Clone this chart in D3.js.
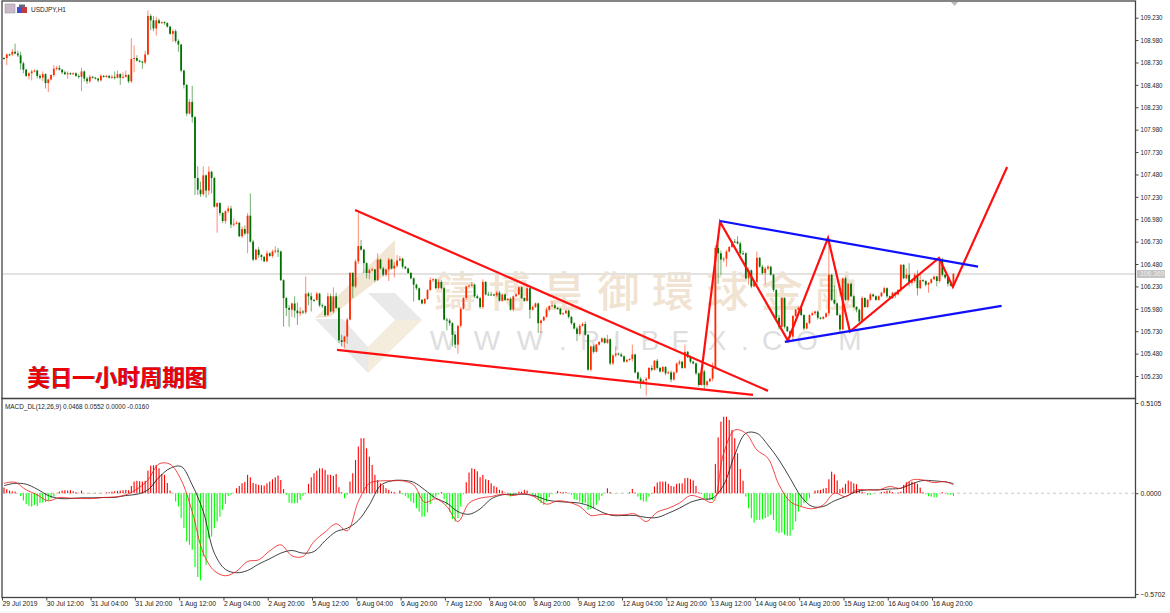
<!DOCTYPE html>
<html><head><meta charset="utf-8">
<style>html,body{margin:0;padding:0;background:#fff;overflow:hidden}svg{display:block}
text{font-family:"Liberation Sans",sans-serif;fill:#222}</style>
<script src="https://cdn.jsdelivr.net/npm/d3@7/dist/d3.min.js"></script></head><body><div id="c"></div>
<script>
const symbolTitle="USDJPY,H1";
const macdTitle="MACD_DL(12,26,9) 0.0468 0.0552 0.0000 -0.0160";
const chartNote="美日一小时周期图";
const currentPrice=106.369, currentLabel="106.369";
const firstOpen=108.78;
const closes=[
108.78,108.82,108.82,108.85,108.83,108.81,108.72,108.65,108.58,108.61,
108.63,108.64,108.58,108.56,108.60,108.50,108.54,108.59,108.66,108.67,
108.65,108.62,108.60,108.61,108.60,108.61,108.58,108.57,108.63,108.55,
108.52,108.57,108.56,108.55,108.53,108.58,108.57,108.58,108.56,108.57,
108.56,108.60,108.56,108.57,108.59,108.52,108.77,108.78,108.75,108.74,
108.73,108.82,109.25,109.20,109.11,109.20,109.17,109.18,109.17,109.13,
109.05,109.08,108.97,108.93,108.64,108.48,108.16,108.29,108.12,107.44,
107.31,107.26,107.47,107.30,107.51,107.44,107.12,107.16,107.05,106.96,
107.07,107.10,106.92,106.93,106.94,106.79,106.87,106.82,107.02,106.73,
106.53,106.64,106.58,106.56,106.51,106.60,106.57,106.62,106.63,106.62,
106.30,106.10,105.99,105.97,106.04,105.96,105.93,105.95,105.94,106.15,
106.12,106.08,106.08,106.15,106.02,106.01,105.91,106.12,105.95,106.12,
105.99,105.63,105.61,105.67,105.86,106.38,106.23,106.51,106.68,106.64,
106.49,106.38,106.41,106.42,106.30,106.53,106.43,106.36,106.42,106.53,
106.43,106.46,106.52,106.54,106.45,106.43,106.38,106.32,106.25,106.21,
106.08,106.04,106.09,106.19,106.30,106.31,106.21,106.28,106.21,105.86,
105.85,105.82,105.69,105.58,105.79,105.98,106.10,106.23,106.24,106.25,
106.12,106.10,106.00,106.28,106.14,106.14,106.14,106.13,106.16,106.07,
106.14,106.08,106.09,105.97,106.12,106.14,106.22,106.10,106.07,106.21,
105.97,106.00,106.04,105.82,105.85,105.89,105.97,106.01,106.02,105.99,
105.98,105.92,105.93,105.96,105.89,105.82,105.76,105.70,105.79,105.81,
105.69,105.30,105.56,105.50,105.58,105.61,105.65,105.60,105.64,105.37,
105.46,105.48,105.47,105.45,105.39,105.41,105.42,105.47,105.27,105.20,
105.15,105.18,105.20,105.32,105.30,105.40,105.32,105.28,105.33,105.26,
105.27,105.19,105.27,105.37,105.39,105.32,105.50,105.44,105.39,105.37,
105.26,105.13,105.28,105.13,105.17,105.20,105.32,106.66,106.60,106.53,
106.54,106.62,106.67,106.73,106.73,106.71,106.60,106.60,106.32,106.41,
106.23,106.28,106.55,106.45,106.38,106.43,106.45,106.36,106.19,105.88,
105.78,106.10,105.78,105.73,105.67,105.90,105.97,105.99,105.91,105.76,
105.82,105.91,105.93,105.95,105.88,105.87,105.89,105.93,106.36,106.08,
106.04,105.91,105.75,106.32,106.08,106.26,106.12,106.00,105.97,105.84,
106.10,106.00,106.08,106.14,106.12,106.08,106.12,106.16,106.21,106.12,
106.10,106.16,106.14,106.19,106.47,106.32,106.36,106.27,106.29,106.36,
106.21,106.30,106.29,106.25,106.27,106.31,106.34,106.29,106.53,106.36,
106.33,106.26,106.24,106.37];
// upper and lower shadows, in hundredths of a yen
const upperWicks=[
1,1,1,3,9,3,4,2,1,1, 2,1,1,2,3,1,1,1,4,2, 3,1,2,2,1,1,1,2,4,1, 2,2,1,1,1,2,1,1,1,2,
6,4,1,5,5,1,23,14,3,1, 1,4,6,2,5,4,2,1,1,1, 1,2,2,2,1,1,1,3,18,1, 13,9,10,1,6,1,1,1,1,1,
1,3,3,6,2,1,3,4,3,25, 2,1,3,1,1,3,1,2,5,3, 1,1,1,3,1,8,9,5,2,19, 2,4,1,2,1,2,1,4,3,10,
4,1,6,1,2,1,1,2,37,7, 1,1,2,2,0,7,1,2,1,2, 1,4,6,3,1,1,1,1,1,1, 1,1,1,1,3,1,1,3,2,1,
2,2,1,1,1,2,1,1,1,3, 1,2,1,3,1,3,3,1,2,2, 1,1,1,2,1,1,1,1,1,4, 1,2,1,1,1,1,2,1,4,2,
1,1,1,1,1,1,1,2,2,2, 3,1,1,2,1,1,1,1,5,1, 1,8,1,2,1,1,1,11,1,1, 2,1,2,1,3,1,2,1,1,1,
2,2,1,1,2,1,8,1,2,1, 1,1,2,2,1,1,6,3,4,3, 2,2,1,1,3,6,2,3,1,3, 1,1,7,1,2,2,2,1,1,1,
3,1,1,1,1,1,1,2,2,1, 1,1,2,1,1,1,1,1,41,1, 16,1,2,1,2,1,1,1,1,1, 2,1,1,2,1,1,1,1,2,1,
1,1,1,1,1,1,7,13,2,2, 5,7,1,1,1,1,1,1,2,2, 1,1,2,1];
const lowerWicks=[
2,8,2,2,1,2,7,4,1,4, 8,1,3,2,4,6,10,1,2,2, 1,2,1,5,1,1,1,2,16,3, 3,2,1,1,2,1,1,1,1,1,
2,1,8,1,1,2,2,15,1,1, 7,2,1,11,3,8,1,1,2,1, 1,9,2,8,2,4,3,1,6,19, 6,3,2,8,5,17,1,29,3,2,
3,2,4,2,1,1,2,2,22,1, 2,1,3,4,1,1,1,2,2,6, 1,32,9,19,8,8,13,3,2,2, 10,13,2,1,2,2,2,1,1,2,
1,3,5,7,8,1,13,2,3,1, 11,6,7,1,2,1,1,2,2,13, 1,10,2,1,2,1,1,1,19,2, 1,1,1,1,1,2,1,1,1,1,
11,3,13,4,10,2,1,2,1,1, 2,1,2,2,1,1,1,1,2,1, 1,1,1,1,2,1,1,1,1,1, 10,1,1,11,11,1,1,2,1,1,
1,1,1,1,2,2,1,8,2,1, 1,1,2,2,1,1,1,1,1,2, 2,2,1,1,1,1,1,3,1,2, 6,1,17,1,2,1,2,1,1,2,
1,3,1,1,2,1,1,1,2,1, 2,2,1,5,2,1,3,1,34,17, 3,9,1,1,1,1,2,2,1,7, 2,1,3,1,2,13,2,1,2,2,
3,1,2,1,1,4,1,1,1,2, 1,1,1,2,2,1,1,1,3,1, 1,1,3,1,1,2,1,1,3,2, 1,1,1,1,1,1,1,1,1,2,
1,1,4,1,2,1,1,4,3,2, 8,1,1,2,9,1,1,6,2,2, 2,3,1,1];
// MACD values in thousandths
const histogram=[
32,23,15,11,9,0,-15,-41,-62,-72, -75,-66,-72,-56,-53,-51,-41,-28,-19,2,
9,15,17,15,17,11,6,2,15,2, -2,2,-2,2,-2,2,0,4,6,9,
11,13,15,17,19,17,41,66,70,68, 66,70,128,156,158,160,141,109,104,58,
15,0,-47,-75,-141,-198,-273,-292,-320,-418, -474,-493,-358,-405,-254,-245,-198,-160,-132,-94,
-60,-15,-9,0,28,41,56,64,104,90, 58,53,47,45,43,56,66,79,90,100,
75,23,-9,-53,-56,-56,-56,-38,-15,-4, 53,90,113,128,141,141,132,105,104,98,
109,34,6,-28,-9,66,113,188,264,311, 311,254,207,160,104,75,56,47,28,19,
9,6,2,15,-6,-15,-28,-47,-56,-85, -104,-132,-132,-109,-62,-28,-19,-6,6,-34,
-66,-104,-147,-160,-141,-75,-6,62,117,141, 137,124,90,104,79,75,56,41,34,19,
15,4,2,-19,-15,-6,9,9,19,15, -2,-9,-23,-41,-56,-66,-47,-23,-6,0,
13,6,6,6,0,-9,-34,-38,-47,-56, -56,-94,-90,-85,-66,-41,-15,0,28,6,
-2,-2,0,-2,0,0,6,24,4,-19, -38,-47,-47,-19,-4,38,60,66,66,66,
53,41,38,53,56,56,85,87,79,72, 41,6,-4,-28,-38,-38,-38,166,316,405,
433,433,414,358,311,226,137,70,-19,-85, -141,-166,-151,-151,-147,-141,-132,-122,-151,-217,
-226,-222,-235,-241,-241,-207,-160,-104,-75,-56, -47,-28,0,15,17,19,26,30,79,122,
107,72,23,32,53,72,66,56,51,19, 9,4,-11,-9,0,0,0,6,9,15,
15,6,2,4,9,47,62,66,66,60, 53,32,6,-6,-17,-19,-23,-23,0,6,
2,-8,-9,-15];
// read every fourth bar, and at the last bar
const lineBars=d3.range(0,344,4).concat(343);
const signalLine=[
43,56,51,23,-13,-30,-30,-26,-26,-24,-24,-13,-6,19,90,141,151,47,-104,-339,-431,-450,-437,-401,-371,-339,-324,-339,-330,-269,-217,-198,-154,-66,43,70,
73,62,19,-28,-56,-104,-119,-89,-32,-9,-6,-6,-15,-38,-47,-51,-56,-75,-107,-126,-126,-126,-137,-137,-113,-85,-51,-34,-28,47,217,339,339,273,188,85,-19,
-75,-75,-43,-19,9,19,19,24,28,53,72,70,64,55];
const mainLine=[
56,62,19,-9,-43,-24,-28,-30,-30,-24,-21,-9,23,75,166,164,75,-104,-339,-439,-467,-442,-386,-377,-326,-292,-354,-358,-273,-220,-173,-213,-47,56,70,70,
70,47,-51,-32,-75,-160,-56,-28,-19,-6,-13,-2,-24,-62,-43,-51,-75,-126,-119,-122,-122,-117,-160,-107,-85,-56,-13,-28,-51,226,358,339,245,198,47,-47,-75,
-88,-66,0,-19,19,19,19,38,28,75,75,60,66,47];
const priceTicks=[109.23,108.98,108.73,108.48,108.23,107.98,107.73,107.48,107.23,106.98,106.73,106.48,106.23,105.98,105.73,105.48,105.23];
const macdTicks=[510.5,0,-570.2];
const timeLabels=["29 Jul 2019","30 Jul 12:00","31 Jul 04:00","31 Jul 20:00","1 Aug 12:00","2 Aug 04:00","2 Aug 20:00","5 Aug 12:00","6 Aug 04:00","6 Aug 20:00","7 Aug 12:00","8 Aug 04:00","8 Aug 20:00","9 Aug 12:00","12 Aug 04:00","12 Aug 20:00","13 Aug 12:00","14 Aug 04:00","14 Aug 20:00","15 Aug 12:00","16 Aug 04:00","16 Aug 20:00"];
// analyst lines: [bar, price] pairs
const wedgeUpper=[[126.8,107.084],[276.0,105.064]];
const wedgeLower=[[120.3,105.521],[270.6,105.019]];
const zigzag=[[251.4,105.131],[258.7,106.95],[283.2,105.625],[297.7,106.771],[305.6,105.726],[337.8,106.548],[342.8,106.224],[362.4,107.564]];
const channelUpper=[[258.7,106.96],[351.9,106.451]];
const channelLower=[[282.1,105.611],[360.4,106.012]];

const W=1170,H=613,axisX=1135.5,UP="#ff2a00",DOWN="#007000";
const svg=d3.select("#c").append("svg").attr("width",W).attr("height",H);
const x=d3.scaleLinear().domain([0,343]).range([4,4+2.768*343]);
const y=d3.scaleLinear().domain([109.23,105.23]).range([17.7,376]);
const ym=d3.scaleLinear().domain([510.5,-570.2]).range([403,594]);

// watermark
const wm=svg.append("g");
wm.append("polygon").attr("points","395,240 395,267 330,317 315,318").attr("fill","#f1e7d4");
wm.append("polygon").attr("points","315,319 343,319 368,347 368,373").attr("fill","#e9e9ea");
wm.append("polygon").attr("points","368,293 395,293 422,320 395,320").attr("fill","#e9e9ea");
wm.append("polygon").attr("points","395,320 422,320 368,373 368,347").attr("fill","#f4ecdd");
wm.selectAll(".cn").data("鑄博皇御環球金融".split("")).join("text").attr("class","cn")
 .attr("x",(d,i)=>455+54.5*i).attr("y",307).attr("text-anchor","middle")
 .style("font-family",'"Noto Sans CJK TC"').style("font-weight",500).style("font-size","42px").style("fill","#f0e3d1").text(d=>d);
const wwwX=[443,487,530,563,590,617,650,680,717,745,772,807,850];
wm.selectAll(".en").data("WWW.RIBFX.COM".split("")).join("text").attr("class","en")
 .attr("x",(d,i)=>wwwX[i]).attr("y",350).attr("text-anchor","middle")
 .style("font-size","28px").style("fill","#dedede").text(d=>d);

// current price line
svg.append("line").attr("x1",3).attr("x2",axisX).attr("y1",y(currentPrice)).attr("y2",y(currentPrice)).attr("stroke","#e4e2df").attr("stroke-width",2);

// candles
const bars=closes.map((c,i)=>{const o=i?closes[i-1]:firstOpen;return{i,o,c,hi:Math.max(o,c)+upperWicks[i]/100,lo:Math.min(o,c)-lowerWicks[i]/100}});
const col=d=>d.c>d.o?UP:DOWN;
const cg=svg.append("g");
cg.selectAll(".w").data(bars).join("line").attr("x1",d=>x(d.i)).attr("x2",d=>x(d.i)).attr("y1",d=>y(d.hi)).attr("y2",d=>y(d.lo)).attr("stroke",col).attr("stroke-width",1).attr("stroke-opacity",.55);
cg.selectAll(".b").data(bars).join("rect").attr("x",d=>x(d.i)-.9).attr("width",1.8).attr("y",d=>y(Math.max(d.o,d.c))).attr("height",d=>Math.max(1,Math.abs(y(d.o)-y(d.c)))).attr("fill",col);

// analyst lines
const ln=d3.line().x(d=>x(d[0])).y(d=>y(d[1]));
[[wedgeUpper,"#ff1010"],[wedgeLower,"#ff1010"],[zigzag,"#ff1010"],[channelUpper,"#1010ff"],[channelLower,"#1010ff"]].forEach(([d,c])=>
 svg.append("path").attr("d",ln(d)).attr("fill","none").attr("stroke",c).attr("stroke-width",2.2));

// MACD
svg.append("line").attr("x1",3).attr("x2",axisX).attr("y1",ym(0)).attr("y2",ym(0)).attr("stroke","#c8c8c8").attr("stroke-dasharray","3,3");
svg.append("g").selectAll("rect").data(histogram).join("rect").attr("x",(d,i)=>x(i)-.55).attr("width",1.1)
 .attr("y",d=>Math.min(ym(d),ym(0))).attr("height",d=>Math.abs(ym(d)-ym(0))).attr("fill",d=>d>=0?"#ff0000":"#00ff00");
const ml=d3.line().x((d,i)=>x(lineBars[i])).y(d=>ym(d)).curve(d3.curveCatmullRom.alpha(.5));
svg.append("path").attr("d",ml(signalLine)).attr("fill","none").attr("stroke","#111").attr("stroke-width",.8);
svg.append("path").attr("d",ml(mainLine)).attr("fill","none").attr("stroke","#f01818").attr("stroke-width",.8);

// frames
const frame="#444";
svg.append("rect").attr("x",2).attr("y",1).attr("width",axisX-2).attr("height",397.5).attr("fill","none").attr("stroke",frame).attr("stroke-width",1.3);
svg.append("rect").attr("x",2).attr("y",398.5).attr("width",axisX-2).attr("height",199).attr("fill","none").attr("stroke",frame).attr("stroke-width",1.3);
svg.append("line").attr("x1",0).attr("x2",W).attr("y1",612).attr("y2",612).attr("stroke","#eee");

// axes
function styleAxis(g){g.select(".domain").remove();g.selectAll(".tick line").attr("stroke",frame);g.selectAll("text").style("font-size","6.8px").style("fill","#222");}
svg.append("g").attr("transform",`translate(${axisX},0)`).call(d3.axisRight(y).tickValues(priceTicks).tickSize(3).tickPadding(2).tickFormat(d3.format(".3f"))).call(styleAxis)
  .selectAll("text").attr("textLength",22).attr("lengthAdjust","spacingAndGlyphs");
svg.append("g").attr("transform",`translate(${axisX},0)`).call(d3.axisRight(ym).tickValues(macdTicks).tickSize(3).tickPadding(2).tickFormat(d=>d3.format(".4f")(d/1000))).call(styleAxis);
const tickBars=timeLabels.map((d,i)=>i*16);
svg.append("g").attr("transform","translate(-2,597.5)").call(d3.axisBottom(x).tickValues(tickBars).tickSize(3).tickPadding(1).tickFormat((d,i)=>timeLabels[i])).call(styleAxis)
  .selectAll("text").attr("text-anchor","start").attr("dx",0);

// current price tag
svg.append("rect").attr("x",1137).attr("y",y(currentPrice)-4).attr("width",28).attr("height",8).attr("fill","#c4c4c4");
svg.append("text").attr("x",1140).attr("y",y(currentPrice)+2.5).style("font-size","6.8px").style("fill","#eee").text(currentLabel);

// titles
svg.append("text").attr("x",31).attr("y",11.5).attr("textLength",35).attr("lengthAdjust","spacingAndGlyphs").style("font-size","7.6px").text(symbolTitle);
svg.append("text").attr("x",5).attr("y",408.5).attr("textLength",144).attr("lengthAdjust","spacingAndGlyphs").style("font-size","7px").text(macdTitle);
// window icons
const ic=svg.append("g");
ic.append("rect").attr("x",5).attr("y",4).attr("width",10).attr("height",9).attr("fill","#c9b9c9").attr("stroke","#999").attr("stroke-width",.6);
ic.append("rect").attr("x",17).attr("y",7).attr("width",5).attr("height",6).attr("fill","#3a4fd8");
ic.append("rect").attr("x",22).attr("y",7).attr("width",5).attr("height",6).attr("fill","#c83a3a");
ic.append("rect").attr("x",19).attr("y",4.5).attr("width",6).attr("height",3).attr("fill","#667");
// period marker
svg.append("path").attr("d",d3.line()([[951,2],[958,2],[954.5,6]])+"Z").attr("fill","#bbb");

// note
const noteY=385.5;
svg.append("text").attr("x",27).attr("y",noteY).style("font-family",'"Noto Sans CJK SC"').style("font-weight",700).style("font-size","22.5px").style("fill","#1a3fa0").attr("dx",.7).attr("dy",.7).text(chartNote);
svg.append("text").attr("x",27).attr("y",noteY).style("font-family",'"Noto Sans CJK SC"').style("font-weight",700).style("font-size","22.5px").style("fill","#ee0000").text(chartNote);
if(closes.length!==344||upperWicks.length!==344||lowerWicks.length!==344||histogram.length!==344||mainLine.length!==lineBars.length||signalLine.length!==lineBars.length)console.error("length",closes.length,upperWicks.length,lowerWicks.length,histogram.length,mainLine.length,signalLine.length,lineBars.length);
</script></body></html>
